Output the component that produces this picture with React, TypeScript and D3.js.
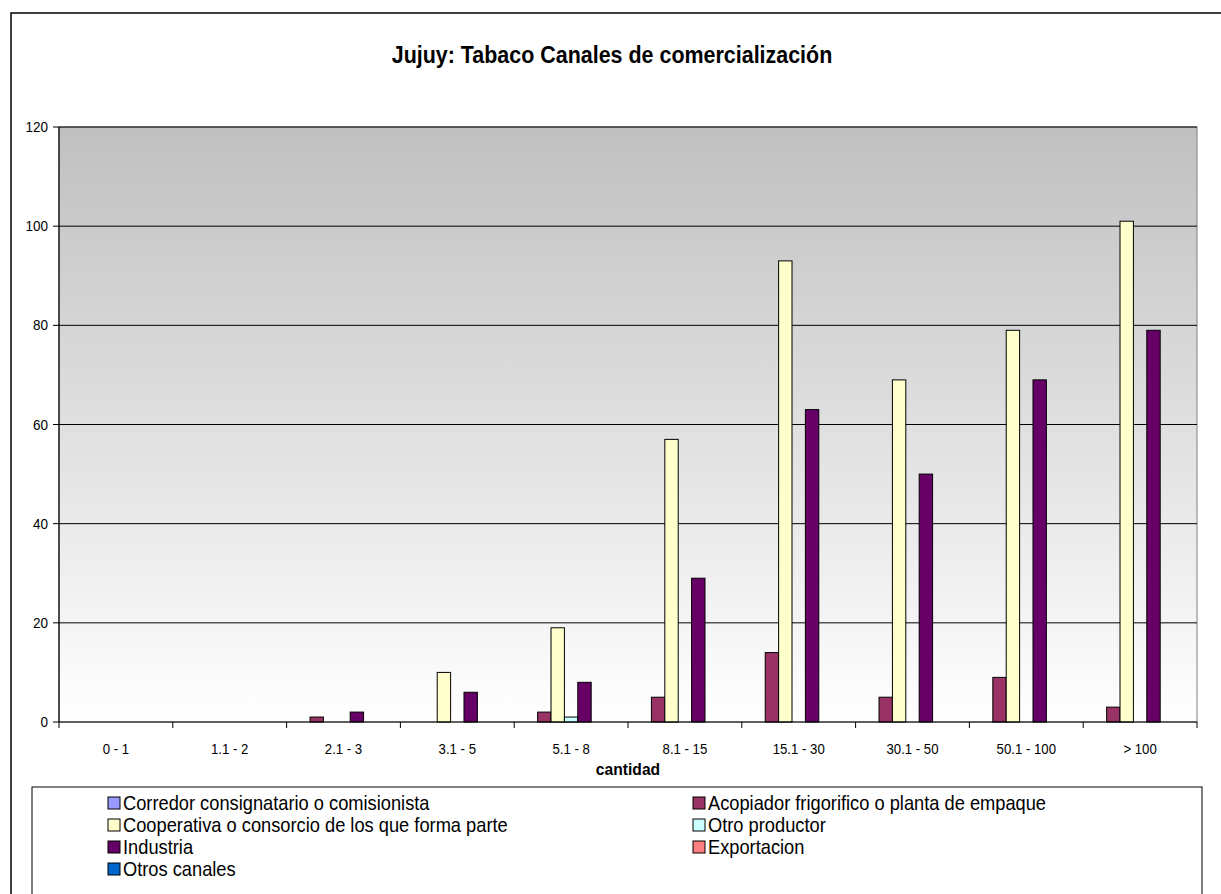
import React from "react";
import * as d3 from "d3";

const categories = ["0 - 1", "1.1 - 2", "2.1 - 3", "3.1 - 5", "5.1 - 8", "8.1 - 15", "15.1 - 30", "30.1 - 50", "50.1 - 100", "> 100"];
const seriesNames = [
  "Corredor consignatario o comisionista",
  "Acopiador frigorifico o planta de empaque",
  "Cooperativa o consorcio de los que forma parte",
  "Otro productor",
  "Industria",
  "Exportacion",
  "Otros canales",
];
const seriesColors = ["#9999ff", "#993366", "#ffffcc", "#ccffff", "#660066", "#ff8080", "#0066cc"];
const corredor = [0, 0, 0, 0, 0, 0, 0, 0, 0, 0];
const acopiador = [0, 0, 1, 0, 2, 5, 14, 5, 9, 3];
const cooperativa = [0, 0, 0, 10, 19, 57, 93, 69, 79, 101];
const otroProductor = [0, 0, 0, 0, 1, 0, 0, 0, 0, 0];
const industria = [0, 0, 2, 6, 8, 29, 63, 50, 69, 79];
const exportacion = [0, 0, 0, 0, 0, 0, 0, 0, 0, 0];
const otrosCanales = [0, 0, 0, 0, 0, 0, 0, 0, 0, 0];
const seriesValues = [corredor, acopiador, cooperativa, otroProductor, industria, exportacion, otrosCanales];
const yTicks = [0, 20, 40, 60, 80, 100, 120];

const FONT = "'Liberation Sans', Arial, sans-serif";

function SText(props: { x: number; y: number; sx: number; size: number; anchor?: string; bold?: boolean; children: React.ReactNode }) {
  return (
    <text
      transform={`translate(${props.x},${props.y}) scale(${props.sx},1)`}
      textAnchor={props.anchor || "start"}
      fontSize={props.size}
      fontWeight={props.bold ? "bold" : "normal"}
      fill="#000"
    >
      {props.children}
    </text>
  );
}

export default function App() {
  const W = 1221, H = 894;
  const left = 59, right = 1197, top = 127, bottom = 722;
  const x = d3.scaleBand<string>().domain(categories).range([left, right]).paddingInner(0).paddingOuter(0);
  const xs = d3.scaleBand<string>().domain(seriesNames).range([0, x.bandwidth()]).paddingInner(0).paddingOuter(0.75);
  const y = d3.scaleLinear().domain([0, 120]).range([bottom, top]);
  const boundaries = d3.range(categories.length + 1).map((i) => left + i * x.step());

  const legendCols = [
    [0, 2, 4, 6],
    [1, 3, 5],
  ];
  const legendX = [108, 693];
  const legendY0 = 797;
  const legendDY = 22;

  return (
    <svg width={W} height={H} style={{ position: "absolute", left: 0, top: 0, background: "#fff" }} fontFamily={FONT}>
      <defs>
        <linearGradient id="bg" x1="0" y1="0" x2="0" y2="1">
          <stop offset="0" stopColor="#c0c0c0" />
          <stop offset="1" stopColor="#ffffff" />
        </linearGradient>
      </defs>
      <rect x={11} y={13} width={W + 20} height={H + 20} fill="#fff" stroke="#000" strokeWidth={1.5} />
      <SText x={612} y={63} sx={0.894} size={24} anchor="middle" bold>
        Jujuy: Tabaco Canales de comercialización
      </SText>
      <rect x={left} y={top} width={right - left} height={bottom - top} fill="url(#bg)" stroke="#808080" strokeWidth={1} />
      {yTicks.filter((t) => t > 0).map((t) => (
        <line key={"g" + t} x1={left} x2={right} y1={y(t)} y2={y(t)} stroke="#000" strokeWidth={1} />
      ))}
      {seriesValues.map((vals, si) =>
        vals.map((v, ci) =>
          v > 0 ? (
            <rect
              key={si + "-" + ci}
              x={(x(categories[ci]) ?? 0) + (xs(seriesNames[si]) ?? 0)}
              y={y(v)}
              width={xs.bandwidth()}
              height={y(0) - y(v)}
              fill={seriesColors[si]}
              stroke="#000"
              strokeWidth={1}
            />
          ) : null
        )
      )}
      <line x1={left} x2={left} y1={top} y2={bottom} stroke="#000" strokeWidth={1.2} />
      <line x1={left} x2={right} y1={bottom} y2={bottom} stroke="#000" strokeWidth={1.2} />
      {yTicks.map((t) => (
        <g key={"y" + t}>
          <line x1={left - 6} x2={left} y1={y(t)} y2={y(t)} stroke="#000" strokeWidth={1} />
          <SText x={48} y={y(t) + 5} sx={0.9} size={15} anchor="end">
            {t}
          </SText>
        </g>
      ))}
      {boundaries.map((b, i) => (
        <line key={"xt" + i} x1={b} x2={b} y1={bottom} y2={bottom + 6} stroke="#000" strokeWidth={1} />
      ))}
      {categories.map((c) => (
        <SText key={"xl" + c} x={(x(c) ?? 0) + x.bandwidth() / 2} y={754} sx={0.88} size={15} anchor="middle">
          {c}
        </SText>
      ))}
      <SText x={(left + right) / 2} y={775} sx={0.92} size={17} anchor="middle" bold>
        cantidad
      </SText>
      <rect x={32} y={787} width={1170} height={120} fill="#fff" stroke="#000" strokeWidth={1} />
      {legendCols.map((col, ci) =>
        col.map((si, ri) => (
          <g key={"lg" + si}>
            <rect
              x={legendX[ci]}
              y={legendY0 + ri * legendDY}
              width={12}
              height={12}
              fill={seriesColors[si]}
              stroke="#000"
              strokeWidth={1}
            />
            <SText x={legendX[ci] + 15} y={legendY0 + ri * legendDY + 13} sx={0.87} size={21}>
              {seriesNames[si]}
            </SText>
          </g>
        ))
      )}
    </svg>
  );
}
